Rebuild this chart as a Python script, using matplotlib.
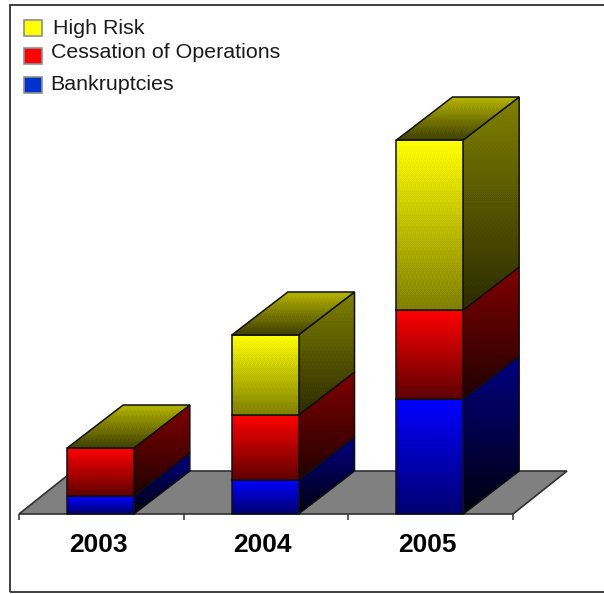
import numpy as np
import matplotlib
matplotlib.use('Agg')
from matplotlib import pyplot as plt
from matplotlib.colors import LinearSegmentedColormap
from matplotlib.patches import Polygon, Rectangle

years = ['2003', '2004', '2005']
bankruptcies = [18, 34, 115]
cessation = [48, 65, 89]
high_risk = [0, 80, 170]

legend_labels = ['High Risk', 'Cessation of Operations', 'Bankruptcies']
legend_colors = ['#ffff00', '#ff0000', '#0033cc']

# (front top, front bottom, side top, side bottom)
yellow_shades = ['#ffff00', '#808000', '#808000', '#2c2c00']
red_shades = ['#ff0000', '#600000', '#800000', '#200000']
blue_shades = ['#0000ff', '#000070', '#000080', '#000010']
roof_shades = ['#b4b400', '#404000']

plt.rcParams['font.family'] = ['Liberation Sans', 'DejaVu Sans']
plt.rcParams['text.kerning_factor'] = 6

W, H = 604, 594
fig = plt.figure(figsize=(W / 100, H / 100), dpi=100, facecolor='white')
ax = fig.add_axes([19 / W, (H - 514) / H, 494 / W, 500 / H])
ax.set_facecolor('none')
ax.set_xlim(0, 3)
ax.set_ylim(0, 500)

bar_w = 0.405
depth_x, depth_y = 0.34, 43
floor_x = 0.328
px_per_x = 494 / 3

# ordered dither for the gradient banding
bayer = np.array([[0, 8, 2, 10], [12, 4, 14, 6], [3, 11, 1, 9], [15, 7, 13, 5]]) / 16
levels = 14


def shaded(points, top, bottom, z):
    # vertical gradient clipped to a polygon, then outlined
    pts = np.array(points, dtype=float)
    x0, x1 = pts[:, 0].min(), pts[:, 0].max()
    y0, y1 = pts[:, 1].min(), pts[:, 1].max()
    nx = max(int(round((x1 - x0) * px_per_x)), 1)
    ny = max(int(round(y1 - y0)), 1)
    cmap = LinearSegmentedColormap.from_list('face', [top, bottom])
    ramp = np.linspace(0, 1, ny).reshape(-1, 1) * np.ones((ny, nx))
    tile = np.tile(bayer, (ny // 4 + 1, nx // 4 + 1))[:ny, :nx]
    grad = np.floor(ramp * levels + tile) / levels
    im = ax.imshow(grad, cmap=cmap, aspect='auto', zorder=z, origin='upper', vmin=0, vmax=1,
                   interpolation='nearest', extent=[x0, x1, y0, y1])
    im.set_clip_box(fig.bbox)
    im.set_clip_path(Polygon(pts, closed=True, transform=ax.transData))
    ax.add_patch(Polygon(pts, closed=True, fc='none', ec='#101010', lw=1.1,
                         zorder=z + 0.5, clip_on=False))


def segment(x, y0, y1, shades, z):
    left, right = x - bar_w / 2, x + bar_w / 2
    shaded([(right, y0), (right + depth_x, y0 + depth_y),
            (right + depth_x, y1 + depth_y), (right, y1)], shades[2], shades[3], z)
    shaded([(left, y0), (right, y0), (right, y1), (left, y1)], shades[0], shades[1], z + 1)


ax.add_patch(Polygon([(0, 0), (3, 0), (3 + floor_x, depth_y), (floor_x, depth_y)], closed=True,
                     fc='#808080', ec='#303030', lw=1.2, zorder=1, clip_on=False))

for i, year in enumerate(years):
    x = i + 0.495
    base = 0
    z = 2
    for value, shades in zip([bankruptcies[i], cessation[i], high_risk[i]],
                             [blue_shades, red_shades, yellow_shades]):
        if value > 0:
            segment(x, base, base + value, shades, z)
            base += value
            z += 2
    left, right = x - bar_w / 2, x + bar_w / 2
    shaded([(left, base), (right, base), (right + depth_x, base + depth_y),
            (left + depth_x, base + depth_y)], roof_shades[0], roof_shades[1], z)

ax.set_xlim(0, 3)
ax.set_ylim(0, 500)
for side in ax.spines.values():
    side.set_visible(False)
ax.set_yticks([])
ax.set_xticks([0, 1, 2, 3])
ax.set_xticklabels([])
ax.set_xticks([0.48, 1.48, 2.48], labels=years, minor=True)
ax.tick_params(axis='x', which='major', length=4.5, width=1.1, color='#303030')
ax.tick_params(axis='x', which='minor', length=0, pad=14, labelsize=19)
for lab in ax.get_xticklabels(minor=True):
    lab.set_fontweight('bold')
    lab.set_color('black')

# outer frame, open past the right edge of the image
fig.add_artist(Rectangle((10 / W, (H - 592) / H), 620 / W, 587 / H, transform=fig.transFigure,
                         fc='none', ec='#303030', lw=1.3))

# legend rows are unevenly spaced
legend_rows = [(28, 53, 28), (56, 51, 53), (85, 50, 84)]
for (swatch_y, text_x, text_y), label, color in zip(legend_rows, legend_labels, legend_colors):
    fig.add_artist(Rectangle((24 / W, (H - swatch_y - 8) / H), 18 / W, 16 / H,
                             transform=fig.transFigure, fc=color, ec='#909090', lw=1.2))
    fig.text(text_x / W, (H - text_y) / H, label, fontsize=15.4, color='#1a1a1a', va='center', ha='left')

fig.savefig('out.png', dpi=100)
